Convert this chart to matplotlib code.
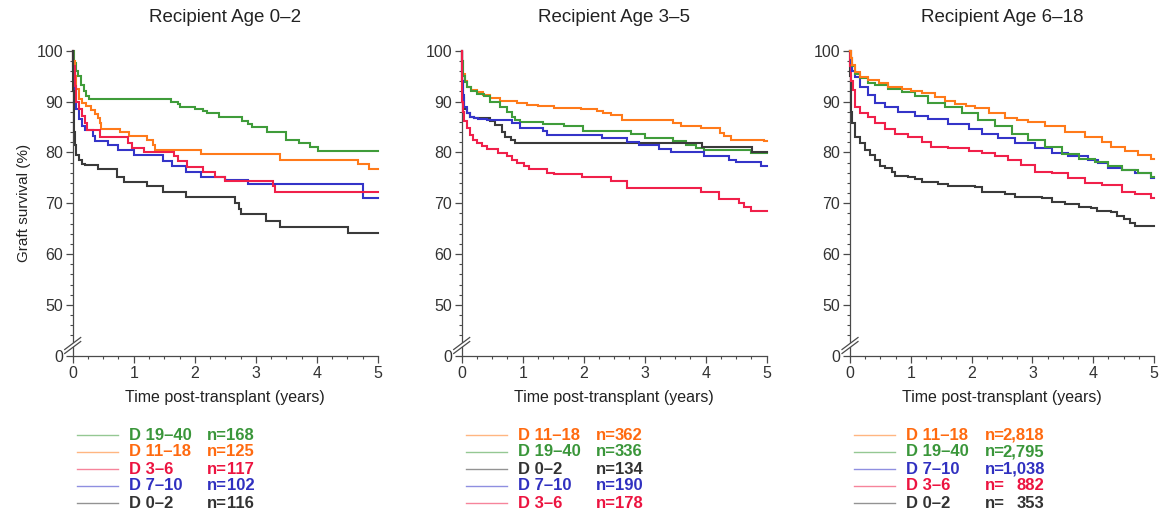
import matplotlib
matplotlib.use("Agg")
import matplotlib.pyplot as plt
from matplotlib.lines import Line2D
from matplotlib.patches import Polygon
from matplotlib.ticker import MultipleLocator, FixedLocator

plt.rcParams['font.family'] = ['Liberation Sans', 'DejaVu Sans']

# ---------------- data ----------------
panel_titles = ["Recipient Age 0\u20132", "Recipient Age 3\u20135", "Recipient Age 6\u201318"]
x_ticks = [0, 1, 2, 3, 4, 5]
y_ticks = [40, 50, 60, 70, 80, 90, 100]
y_tick_labels = ["0", "50", "60", "70", "80", "90", "100"]

# Panel 1 (recipient 0-2)
p1_green_t = [0.02, 0.05, 0.09, 0.13, 0.18, 0.22, 0.26, 1.61, 1.72, 1.76, 2.00, 2.14, 2.20, 2.39, 2.77, 2.87, 2.93, 3.19, 3.50, 3.70, 3.89, 4.02]
p1_green_s = [97.5, 96.0, 95.0, 93.3, 92.0, 91.0, 90.5, 90.0, 89.5, 89.0, 88.6, 88.2, 87.7, 86.9, 86.2, 85.5, 84.9, 84.1, 82.5, 81.8, 81.1, 80.2]
p1_orange_t = [0.01, 0.03, 0.06, 0.10, 0.16, 0.22, 0.30, 0.36, 0.41, 0.44, 0.46, 0.77, 0.92, 1.22, 1.31, 1.35, 2.10, 3.39, 4.67, 4.86]
p1_orange_s = [98.0, 95.0, 92.5, 90.5, 89.8, 89.2, 88.4, 87.6, 86.8, 85.8, 84.7, 84.0, 83.2, 82.4, 81.5, 80.5, 79.6, 78.6, 77.7, 76.8]
p1_red_t = [0.01, 0.03, 0.06, 0.10, 0.15, 0.20, 0.24, 0.45, 0.90, 0.97, 1.16, 1.66, 1.72, 1.87, 2.14, 2.33, 2.50, 3.28, 3.32]
p1_red_s = [97.0, 93.0, 90.0, 88.5, 87.2, 85.7, 84.5, 83.0, 81.9, 80.9, 80.0, 79.2, 78.3, 77.2, 76.2, 75.2, 74.3, 73.3, 72.3]
p1_blue_t = [0.01, 0.03, 0.06, 0.10, 0.15, 0.20, 0.33, 0.37, 0.58, 0.75, 1.00, 1.48, 1.63, 1.86, 2.10, 2.50, 2.87, 4.76]
p1_blue_s = [96.0, 92.0, 88.5, 86.5, 85.2, 84.5, 83.3, 82.3, 81.4, 80.4, 79.4, 78.4, 77.3, 76.1, 75.1, 74.6, 73.8, 71.1]
p1_black_t = [0.005, 0.02, 0.04, 0.06, 0.10, 0.15, 0.20, 0.42, 0.72, 0.84, 1.21, 1.48, 1.86, 2.66, 2.73, 2.76, 3.17, 3.40, 4.51]
p1_black_s = [92.0, 84.0, 81.4, 79.5, 78.5, 77.8, 77.6, 76.7, 75.2, 74.1, 73.3, 72.3, 71.3, 70.0, 68.8, 67.8, 66.6, 65.4, 64.1]

# Panel 2 (recipient 3-5)
p2_orange_t = [0.005, 0.02, 0.05, 0.09, 0.15, 0.25, 0.35, 0.47, 0.63, 0.90, 1.07, 1.25, 1.51, 1.95, 2.21, 2.32, 2.45, 2.63, 3.46, 3.60, 3.93, 4.23, 4.30, 4.41, 4.95]
p2_orange_s = [98.0, 95.5, 94.0, 92.9, 92.3, 91.9, 91.3, 90.6, 90.2, 89.7, 89.4, 89.1, 88.8, 88.5, 88.2, 87.7, 87.3, 86.4, 85.8, 85.2, 84.8, 83.8, 83.2, 82.5, 82.2]
p2_green_t = [0.005, 0.02, 0.05, 0.09, 0.15, 0.25, 0.36, 0.47, 0.63, 0.74, 0.82, 0.88, 0.96, 1.34, 1.67, 1.99, 2.77, 3.00, 3.46, 3.68, 3.84, 3.98, 4.75]
p2_green_s = [98.0, 95.0, 93.8, 92.9, 92.0, 91.5, 91.0, 90.0, 89.0, 88.0, 87.0, 86.4, 85.9, 85.5, 85.1, 84.3, 83.6, 82.8, 82.2, 81.5, 80.9, 80.5, 79.9]
p2_black_t = [0.005, 0.02, 0.04, 0.08, 0.13, 0.20, 0.47, 0.55, 0.66, 0.71, 0.80, 0.88, 3.94, 4.76]
p2_black_s = [94.0, 90.6, 88.6, 87.8, 87.0, 86.7, 86.2, 85.4, 84.1, 83.1, 82.5, 81.9, 81.0, 80.0]
p2_blue_t = [0.005, 0.02, 0.04, 0.08, 0.13, 0.20, 0.27, 0.41, 0.82, 0.96, 1.34, 1.40, 2.30, 2.71, 2.91, 3.23, 3.43, 3.97, 4.38, 4.49, 4.90]
p2_blue_s = [94.0, 91.2, 89.0, 87.7, 87.0, 86.7, 86.5, 86.4, 85.8, 84.8, 84.3, 83.5, 82.9, 82.1, 81.5, 80.6, 80.0, 79.3, 78.6, 78.1, 77.4]
p2_red_t = [0.003, 0.01, 0.02, 0.04, 0.08, 0.13, 0.18, 0.25, 0.33, 0.41, 0.60, 0.74, 0.82, 0.91, 1.02, 1.10, 1.40, 1.51, 1.97, 2.45, 2.71, 3.93, 4.21, 4.55, 4.63, 4.74]
p2_red_s = [95.0, 90.0, 88.0, 86.1, 84.8, 83.5, 82.5, 81.9, 81.2, 80.6, 79.9, 79.3, 78.6, 78.0, 77.3, 76.7, 76.0, 75.7, 75.1, 74.4, 73.0, 72.3, 70.8, 70.0, 69.3, 68.4]

# Panel 3 (recipient 6-18)
p3_orange_t = [0.01, 0.03, 0.08, 0.16, 0.30, 0.47, 0.63, 0.85, 1.00, 1.18, 1.40, 1.56, 1.73, 1.90, 2.06, 2.28, 2.55, 2.75, 2.93, 3.21, 3.54, 3.87, 4.14, 4.30, 4.52, 4.74, 4.95]
p3_orange_s = [98.5, 97.2, 95.9, 94.9, 94.2, 93.6, 92.9, 92.4, 92.0, 91.6, 90.8, 90.2, 89.6, 89.2, 88.7, 87.8, 86.8, 86.4, 86.0, 85.1, 84.1, 83.1, 82.1, 81.0, 80.3, 79.5, 78.8]
p3_green_t = [0.01, 0.03, 0.08, 0.16, 0.30, 0.41, 0.63, 0.85, 1.07, 1.29, 1.56, 1.84, 2.11, 2.38, 2.66, 2.93, 3.21, 3.48, 3.76, 4.03, 4.25, 4.47, 4.74, 4.95]
p3_green_s = [98.5, 97.0, 95.5, 94.6, 93.7, 93.3, 92.4, 91.8, 91.0, 89.8, 88.9, 87.7, 86.4, 85.1, 83.7, 82.4, 81.0, 79.7, 78.8, 78.2, 77.3, 76.5, 75.9, 75.1]
p3_blue_t = [0.01, 0.03, 0.08, 0.16, 0.30, 0.41, 0.58, 0.79, 1.07, 1.29, 1.62, 1.95, 2.17, 2.44, 2.71, 3.04, 3.32, 3.59, 3.92, 4.08, 4.25, 4.47, 4.69, 4.95]
p3_blue_s = [97.5, 96.0, 94.9, 92.9, 91.3, 89.8, 89.0, 88.0, 87.2, 86.5, 85.6, 84.7, 83.7, 82.8, 81.9, 80.8, 79.8, 79.2, 78.5, 78.0, 77.0, 76.5, 76.0, 74.9]
p3_red_t = [0.005, 0.02, 0.05, 0.08, 0.16, 0.30, 0.41, 0.58, 0.74, 0.96, 1.18, 1.34, 1.62, 1.95, 2.17, 2.38, 2.60, 2.82, 3.04, 3.32, 3.59, 3.87, 4.14, 4.47, 4.69, 4.95]
p3_red_s = [97.0, 94.0, 92.3, 89.0, 87.7, 87.0, 85.7, 84.7, 83.7, 83.1, 82.1, 81.1, 80.8, 80.3, 79.8, 79.3, 78.5, 77.5, 76.2, 75.9, 74.9, 73.9, 73.6, 72.3, 71.8, 71.0]
p3_black_t = [0.003, 0.01, 0.02, 0.04, 0.08, 0.16, 0.25, 0.33, 0.41, 0.49, 0.58, 0.69, 0.74, 0.96, 1.07, 1.18, 1.45, 1.62, 2.06, 2.17, 2.55, 2.71, 3.15, 3.32, 3.54, 3.76, 3.97, 4.06, 4.30, 4.39, 4.50, 4.61, 4.69]
p3_black_s = [95.0, 91.0, 88.0, 85.7, 83.1, 81.8, 80.5, 79.5, 78.5, 77.3, 76.9, 76.2, 75.4, 75.2, 74.7, 74.2, 73.8, 73.4, 73.1, 72.3, 71.8, 71.3, 71.0, 70.3, 69.9, 69.3, 69.0, 68.5, 68.3, 67.5, 67.0, 66.2, 65.5]

# legend entries (order as in the figure)
p1_legend_labels = ["D 19\u201340", "D 11\u201318", "D 3\u20136", "D 7\u201310", "D 0\u20132"]
p1_legend_n = ["168", "125", "117", "102", "116"]
p2_legend_labels = ["D 11\u201318", "D 19\u201340", "D 0\u20132", "D 7\u201310", "D 3\u20136"]
p2_legend_n = ["362", "336", "134", "190", "178"]
p3_legend_labels = ["D 11\u201318", "D 19\u201340", "D 7\u201310", "D 3\u20136", "D 0\u20132"]
p3_legend_n = ["2,818", "2,795", "1,038", "882", "353"]

# ---------------- styles ----------------
COL = {
    "D 19\u201340": "#3f9c3a",
    "D 11\u201318": "#ff7a1a",
    "D 3\u20136": "#f0204a",
    "D 7\u201310": "#3434c8",
    "D 0\u20132": "#3a3a3a",
}
TXT_COL = {
    "D 19\u201340": "#3a963a",
    "D 11\u201318": "#ff6a10",
    "D 3\u20136": "#ec1440",
    "D 7\u201310": "#3030c0",
    "D 0\u20132": "#333333",
}

panels = [
    (panel_titles[0], [("D 19\u201340", p1_green_t, p1_green_s), ("D 11\u201318", p1_orange_t, p1_orange_s),
                       ("D 7\u201310", p1_blue_t, p1_blue_s), ("D 3\u20136", p1_red_t, p1_red_s),
                       ("D 0\u20132", p1_black_t, p1_black_s)], p1_legend_labels, p1_legend_n),
    (panel_titles[1], [("D 11\u201318", p2_orange_t, p2_orange_s), ("D 19\u201340", p2_green_t, p2_green_s),
                       ("D 0\u20132", p2_black_t, p2_black_s), ("D 7\u201310", p2_blue_t, p2_blue_s),
                       ("D 3\u20136", p2_red_t, p2_red_s)], p2_legend_labels, p2_legend_n),
    (panel_titles[2], [("D 0\u20132", p3_black_t, p3_black_s), ("D 3\u20136", p3_red_t, p3_red_s),
                       ("D 7\u201310", p3_blue_t, p3_blue_s), ("D 19\u201340", p3_green_t, p3_green_s),
                       ("D 11\u201318", p3_orange_t, p3_orange_s)], p3_legend_labels, p3_legend_n),
]

W, H = 1159, 514
fig = plt.figure(figsize=(W / 100, H / 100), dpi=100)

ax_left_px = [72.7, 461.7, 850.0]
ax_w_px = [305.3, 305.0, 304.0]
ax_top_px, ax_bot_px = 50.7, 355.8
n_end_px = [181.5, 181.0, 194.0]

SPINE = "#4a4a4a"

for i, (title, series, leg_labels, leg_n) in enumerate(panels):
    L = ax_left_px[i]
    ax = fig.add_axes([L / W, 1 - ax_bot_px / H, ax_w_px[i] / W, (ax_bot_px - ax_top_px) / H])
    for lab, t, s in series:
        tt = [0.0] + list(t) + [5.0]
        ss = [100.0] + list(s) + [s[-1]]
        ax.step(tt, ss, where="post", color=COL[lab], lw=1.5, solid_joinstyle="miter", clip_on=False, zorder=3)
    ax.set_xlim(0, 5)
    ax.set_ylim(40, 100)
    for sp in ["top", "right"]:
        ax.spines[sp].set_visible(False)
    for sp in ["left", "bottom"]:
        ax.spines[sp].set_color(SPINE)
        ax.spines[sp].set_linewidth(0.9)
    ax.set_xticks(x_ticks)
    ax.xaxis.set_minor_locator(MultipleLocator(0.25))
    ax.set_yticks(y_ticks)
    ax.set_yticklabels(y_tick_labels)
    ax.yaxis.set_minor_locator(FixedLocator([v for v in range(44, 100, 2) if v % 10 != 0]))
    ax.tick_params(which="major", length=5, width=0.9, color=SPINE, labelsize=11.5, labelcolor="#333333", pad=2)
    ax.tick_params(which="minor", length=2.5, width=0.8, color=SPINE)
    ax.set_xlabel("Time post-transplant (years)", fontsize=11.5, color="#222222", labelpad=7)
    if i == 0:
        ax.set_ylabel("Graft survival (%)", fontsize=11, color="#222222", labelpad=4)
    ax.set_title(title, fontsize=13.5, color="#222222", pad=21)

    # axis break marks on the y axis
    bx = L / W
    by = 1 - 345.5 / H
    dx, dy = 8 / W, 6 / H
    off = 4 / H
    gap = Polygon([(bx - dx, by - dy - off / 2), (bx + dx, by + dy - off / 2),
                   (bx + dx, by + dy + off / 2), (bx - dx, by - dy + off / 2)],
                  closed=True, transform=fig.transFigure, facecolor="white", edgecolor="none", zorder=5)
    fig.add_artist(gap)
    for k in (-1, 1):
        fig.add_artist(Line2D([bx - dx, bx + dx], [by - dy + k * off / 2, by + dy + k * off / 2],
                              transform=fig.transFigure, color=SPINE, lw=0.9, zorder=6))

    # legend
    for r, (lab, n) in enumerate(zip(leg_labels, leg_n)):
        yc = 1 - (435 + r * 17) / H
        fig.add_artist(Line2D([(L + 4) / W, (L + 45) / W], [yc, yc], transform=fig.transFigure,
                              color=COL[lab], lw=1.0, alpha=0.55))
        fig.text((L + 56) / W, yc, lab, color=TXT_COL[lab], fontsize=12, fontweight="bold",
                 va="center", ha="left")
        fig.text((L + 134.5) / W, yc, "n=", color=TXT_COL[lab], fontsize=12, fontweight="bold",
                 va="center", ha="left")
        fig.text((L + n_end_px[i]) / W, yc, n, color=TXT_COL[lab], fontsize=12, fontweight="bold",
                 va="center", ha="right")

fig.savefig("out.png", dpi=100)
